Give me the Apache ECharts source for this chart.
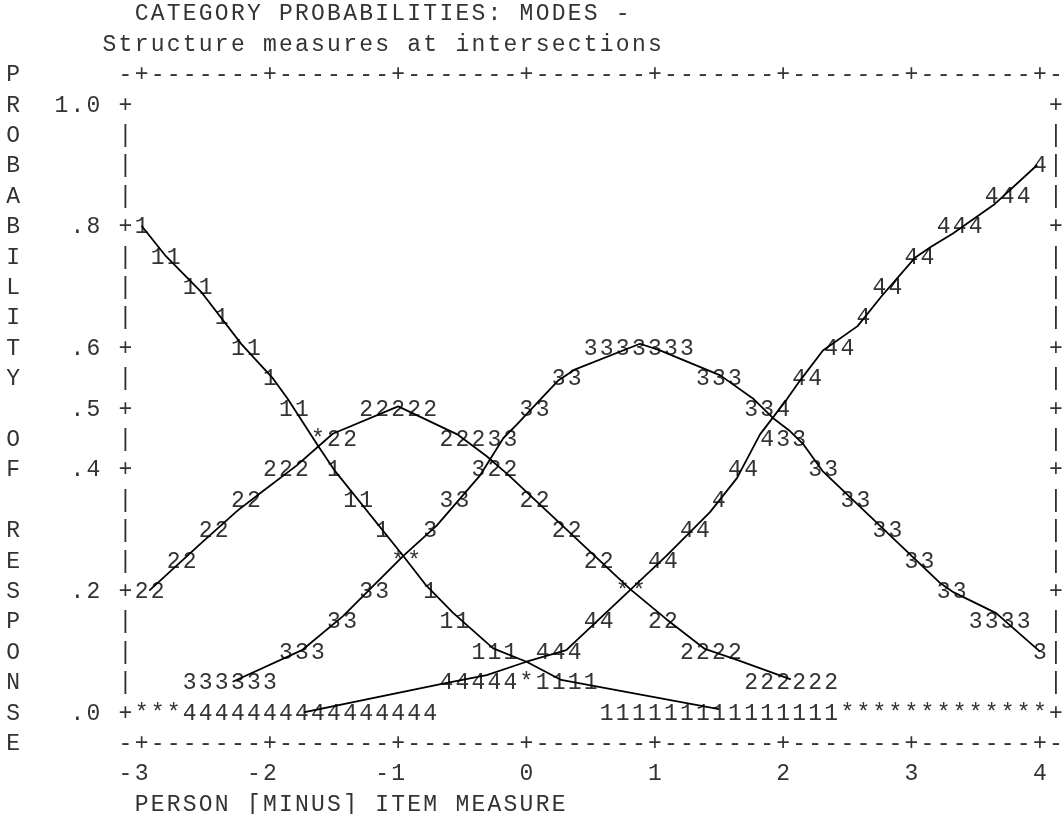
<!DOCTYPE html>
<html>
<head>
<meta charset="utf-8">
<script src="https://cdn.jsdelivr.net/npm/echarts@6/dist/echarts.min.js"></script>
<style>
  html, body { margin: 0; padding: 0; background: #fff; }
  #main { width: 1063px; height: 814px; }
</style>
</head>
<body>
<div id="main"></div>
<script>
// Text of the printout: [column, text] pieces for each row
var asciiRows = [
  [[8, 'CATEGORY PROBABILITIES: MODES -']],
  [[6, 'Structure measures at intersections']],
  [[0, 'P'], [7, '-+-------+-------+-------+-------+-------+-------+-------+-']],
  [[0, 'R'], [3, '1.0'], [7, '+'], [65, '+']],
  [[0, 'O'], [7, '|'], [65, '|']],
  [[0, 'B'], [7, '|'], [64, '4|']],
  [[0, 'A'], [7, '|'], [61, '444'], [65, '|']],
  [[0, 'B'], [4, '.8'], [7, '+1'], [58, '444'], [65, '+']],
  [[0, 'I'], [7, '|'], [9, '11'], [56, '44'], [65, '|']],
  [[0, 'L'], [7, '|'], [11, '11'], [54, '44'], [65, '|']],
  [[0, 'I'], [7, '|'], [13, '1'], [53, '4'], [65, '|']],
  [[0, 'T'], [4, '.6'], [7, '+'], [14, '11'], [36, '3333333'], [51, '44'], [65, '+']],
  [[0, 'Y'], [7, '|'], [16, '1'], [34, '33'], [43, '333'], [49, '44'], [65, '|']],
  [[4, '.5'], [7, '+'], [17, '11'], [22, '22222'], [32, '33'], [46, '334'], [65, '+']],
  [[0, 'O'], [7, '|'], [19, '*22'], [27, '22233'], [47, '433'], [65, '|']],
  [[0, 'F'], [4, '.4'], [7, '+'], [16, '222'], [20, '1'], [29, '322'], [45, '44'], [50, '33'], [65, '+']],
  [[7, '|'], [14, '22'], [21, '11'], [27, '33'], [32, '22'], [44, '4'], [52, '33'], [65, '|']],
  [[0, 'R'], [7, '|'], [12, '22'], [23, '1'], [26, '3'], [34, '22'], [42, '44'], [54, '33'], [65, '|']],
  [[0, 'E'], [7, '|'], [10, '22'], [24, '**'], [36, '22'], [40, '44'], [56, '33'], [65, '|']],
  [[0, 'S'], [4, '.2'], [7, '+22'], [22, '33'], [26, '1'], [38, '**'], [58, '33'], [65, '+']],
  [[0, 'P'], [7, '|'], [20, '33'], [27, '11'], [36, '44'], [40, '22'], [60, '3333'], [65, '|']],
  [[0, 'O'], [7, '|'], [17, '333'], [29, '111'], [33, '444'], [42, '2222'], [64, '3|']],
  [[0, 'N'], [7, '|'], [11, '333333'], [27, '44444*1111'], [46, '222222'], [65, '|']],
  [[0, 'S'], [4, '.0'], [7, '+***4444444444444444'], [37, '111111111111111*************+']],
  [[0, 'E'], [7, '-+-------+-------+-------+-------+-------+-------+-------+-']],
  [[7, '-3'], [15, '-2'], [23, '-1'], [32, '0'], [40, '1'], [48, '2'], [56, '3'], [64, '4']],
  [[8, 'PERSON [MINUS] ITEM MEASURE']]
];

// Traced curves: measure and probability
var cat1X = [-3.0, -2.81, -2.53, -2.22, -1.98, -1.86, -1.63, -1.49, -0.96, -0.78, -0.57, -0.26, 0.0, 0.27, 1.5];
var cat1P = [0.80, 0.75, 0.69, 0.605, 0.55, 0.515, 0.44, 0.396, 0.257, 0.208, 0.163, 0.105, 0.083, 0.053, 0.005];

var cat2X = [-2.94, -2.52, -2.25, -2.04, -1.79, -1.51, -1.0, -0.54, -0.31, -0.14, 0.81, 1.09, 1.39, 1.64, 2.06];
var cat2P = [0.20, 0.281, 0.332, 0.366, 0.406, 0.458, 0.503, 0.457, 0.421, 0.39, 0.202, 0.153, 0.104, 0.086, 0.054];

var cat3X = [-2.29, -1.75, -1.43, -1.245, -0.96, -0.70, -0.36, -0.18, -0.076, 0.25, 0.38, 0.885, 1.04, 1.51, 1.77, 1.92, 2.055, 2.16, 2.31, 3.22, 3.33, 3.66, 4.0];
var cat3P = [0.05, 0.102, 0.158, 0.197, 0.257, 0.307, 0.39, 0.451, 0.473, 0.546, 0.564, 0.606, 0.595, 0.554, 0.515, 0.484, 0.462, 0.44, 0.396, 0.213, 0.197, 0.163, 0.10];

var cat4X = [-1.73, -0.65, -0.31, 0.0, 0.31, 1.09, 1.43, 1.64, 1.82, 2.03, 2.13, 2.31, 2.58, 2.77, 3.03, 3.15, 3.32, 3.65, 3.98];
var cat4P = [0.0, 0.047, 0.061, 0.083, 0.102, 0.257, 0.329, 0.385, 0.457, 0.515, 0.545, 0.595, 0.635, 0.685, 0.748, 0.765, 0.787, 0.836, 0.90];

// character grid of the printout
var CHAR_W = 16.04;
var ROW_H = 30.4;
var X0 = 5.2;
var Y0 = 13;
var TEXT_DY = 1.3;
var FONT = '23px "Liberation Mono", "Courier New", monospace';

function pairs(xs, ps) {
  var out = [];
  for (var i = 0; i < xs.length; i++) {
    out.push([xs[i], ps[i]]);
  }
  return out;
}

// every character sits centred in its own cell, like the printout
function buildText() {
  var els = [];
  asciiRows.forEach(function (row, r) {
    row.forEach(function (piece) {
      var s = piece[1];
      for (var k = 0; k < s.length; k++) {
        if (s.charAt(k) === ' ') {
          continue;
        }
        els.push({
          type: 'text',
          z: 0,
          silent: true,
          style: {
            text: s.charAt(k),
            x: X0 + (piece[0] + k + 0.5) * CHAR_W,
            y: Y0 + r * ROW_H + TEXT_DY,
            font: FONT,
            fill: '#333',
            align: 'center',
            verticalAlign: 'middle'
          }
        });
      }
    });
  });
  return els;
}

function curve(name, xs, ps) {
  return {
    name: name,
    type: 'line',
    z: 5,
    symbol: 'none',
    smooth: false,
    lineStyle: { color: '#000', width: 1.8 },
    data: pairs(xs, ps)
  };
}

var myChart = echarts.init(document.getElementById('main'));

var option = {
  animation: false,
  backgroundColor: '#fff',
  grid: {
    left: X0 + 8.5 * CHAR_W,
    right: 1063 - (X0 + 64.5 * CHAR_W),
    top: Y0 + 3 * ROW_H,
    bottom: 814 - (Y0 + 23 * ROW_H)
  },
  xAxis: { type: 'value', min: -3, max: 4, show: false },
  yAxis: { type: 'value', min: 0, max: 1, show: false },
  graphic: buildText(),
  series: [
    curve('1', cat1X, cat1P),
    curve('2', cat2X, cat2P),
    curve('3', cat3X, cat3P),
    curve('4', cat4X, cat4P)
  ]
};

myChart.setOption(option);
</script>
</body>
</html>
